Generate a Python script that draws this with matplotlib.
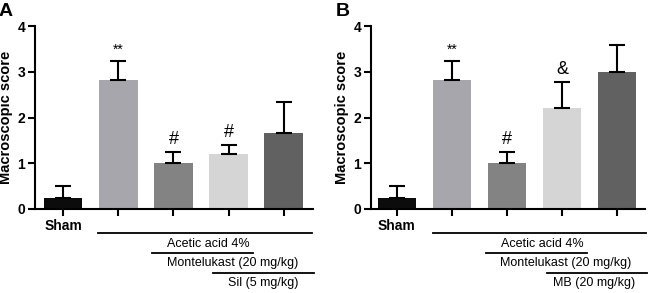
import matplotlib
matplotlib.use("Agg")
import matplotlib.pyplot as plt
import matplotlib.transforms as mtransforms

plt.rcParams['font.family'] = ['Liberation Sans', 'DejaVu Sans']

groups = ["Sham", "AA", "AA+Mont", "AA+Mont+X", "AA+X"]
colors = ["#0c0c0c", "#a6a6ac", "#838383", "#d5d5d5", "#616161"]

means_A = [0.25, 2.83, 1.00, 1.20, 1.67]
err_A = [0.25, 0.40, 0.25, 0.20, 0.66]
marks_A = ["", "**", "#", "#", ""]

means_B = [0.25, 2.83, 1.00, 2.20, 3.00]
err_B = [0.25, 0.40, 0.25, 0.58, 0.58]
marks_B = ["", "**", "#", "&", ""]

third_A = "Sil (5 mg/kg)"
third_B = "MB (20 mg/kg)"

fig = plt.figure(figsize=(6.5, 2.93), dpi=100)

def draw(ax, means, errs, marks, third, xlim, letter, layout):
    x = list(range(len(means)))
    ax.bar(x, means, width=0.7, color=colors, zorder=2)
    ax.errorbar(x, means, yerr=[[0]*len(errs), errs], fmt='none', ecolor='black',
                elinewidth=1.5, capsize=6, capthick=1.5, zorder=3)
    for xi, m, e, t in zip(x, means, errs, marks):
        if t:
            fs = 10 if t == "**" else 13
            off = 0.25 if t == "**" else 0.27
            ax.text(xi, m + e + off, t, ha='center', va='center', fontsize=fs)
    ax.set_xlim(*xlim)
    ax.set_ylim(0, 4)
    ax.set_yticks([0, 1, 2, 3, 4])
    ax.set_yticklabels(["0", "1", "2", "3", "4"], fontsize=10, fontweight='bold')
    ax.set_xticks(x)
    ax.set_xticklabels(["Sham", "", "", "", ""], fontsize=10, fontweight='bold')
    for s in ['top', 'right']:
        ax.spines[s].set_visible(False)
    for s in ['left', 'bottom']:
        ax.spines[s].set_linewidth(1.5)
    ax.tick_params(axis='both', width=1.5, length=5, pad=2)
    ax.set_ylabel("Macroscopic score", fontsize=10.5, fontweight='bold', labelpad=3)
    ax.text(-0.13, 1.08, letter, transform=ax.transAxes, fontsize=14, fontweight='bold',
            ha='left', va='center')
    tr = mtransforms.blended_transform_factory(ax.transData, ax.transAxes)
    (l1, l2, l3, t1, t2, t3) = layout
    for (x0, x1), yy in zip([l1, l2, l3], [-0.131, -0.240, -0.350]):
        ax.plot([x0, x1], [yy, yy], color='black', lw=1.3, transform=tr, clip_on=False)
    for xx, yy, s in zip([t1, t2, t3], [-0.191, -0.295, -0.404],
                         ["Acetic acid 4%", "Montelukast (20 mg/kg)", third]):
        ax.text(xx, yy, s, transform=tr, ha='center', va='center', fontsize=9)

axA = fig.add_axes([35/650, 84/293, 278/650, 183/293])
draw(axA, means_A, err_A, marks_A, third_A, (-0.51, 4.53), "A",
     ((0.63, 4.51), (1.61, 3.44), (2.71, 4.54), 2.64, 3.08, 3.62))

axB = fig.add_axes([371/650, 84/293, 274/650, 183/293])
draw(axB, means_B, err_B, marks_B, third_B, (-0.47, 4.51), "B",
     ((0.65, 4.53), (1.62, 3.45), (2.73, 4.55), 2.65, 3.07, 3.58))

fig.savefig("out.png", dpi=100)
